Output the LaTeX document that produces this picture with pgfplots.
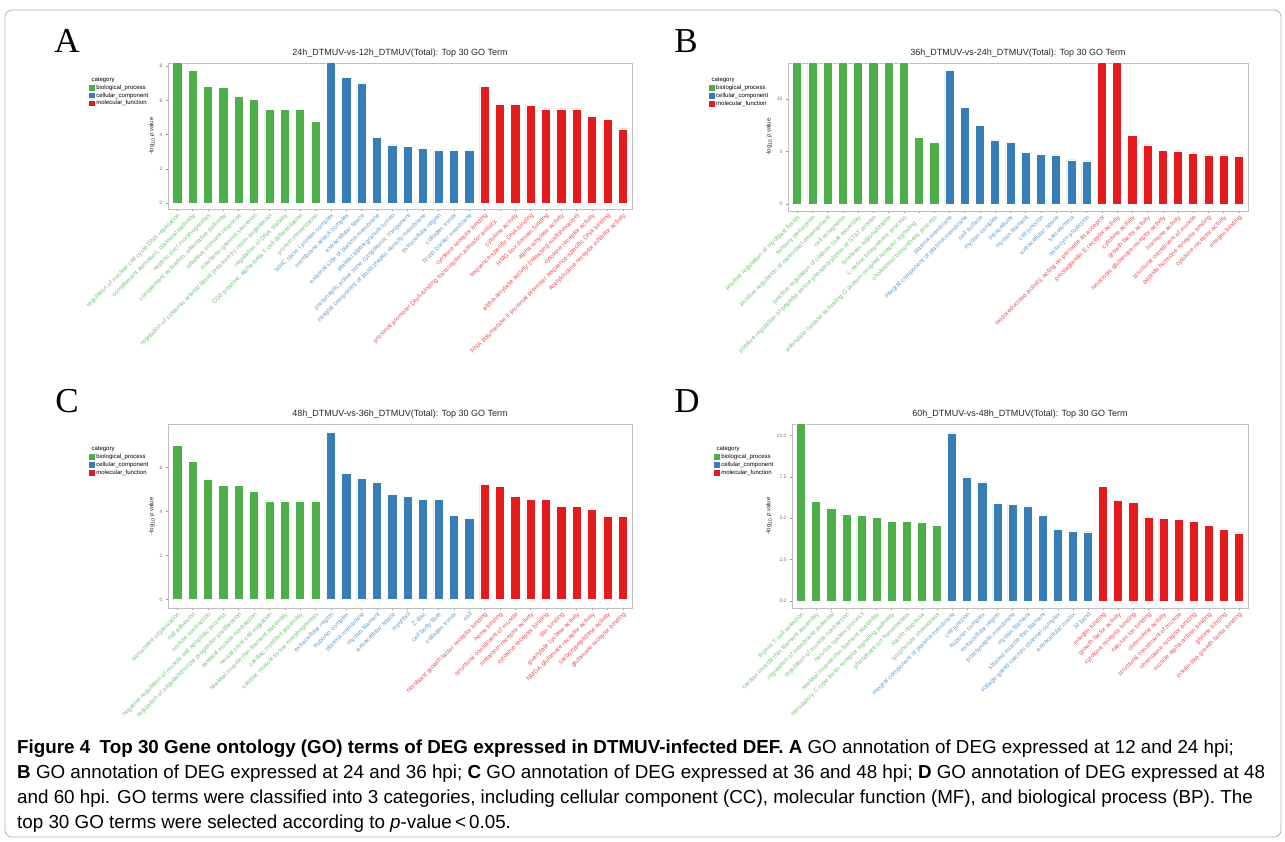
\documentclass[border=0pt]{standalone}
\usepackage{pgfplots}
\pgfplotsset{compat=1.18}
\usepackage{fontspec}
\setmainfont{Liberation Sans}
\newfontfamily\seriffont{Liberation Serif}

\definecolor{cBP}{HTML}{4DAF4A}
\definecolor{cCC}{HTML}{377EB8}
\definecolor{cMF}{HTML}{E41A1C}
\colorlet{tBP}{cBP!75!white}
\colorlet{tCC}{cCC!75!white}
\colorlet{tMF}{cMF!75!white}
\newcommand{\G}[1]{\textcolor{tBP}{#1}}
\newcommand{\C}[1]{\textcolor{tCC}{#1}}
\newcommand{\M}[1]{\textcolor{tMF}{#1}}

\pgfplotsset{
  gobar/.style={
    scale only axis,
    ybar, bar width=0.6, bar shift=0pt,
    xmin=0.4, xmax=30.6, xtick={1,...,30},
    tick pos=left, tick align=outside, major tick length=2pt,
    tick style={black!40, line width=0.4pt},
    axis line style={black!25, line width=0.6pt},
    xticklabel style={rotate=45, anchor=north east, inner sep=1pt,
      font=\fontsize{6.3}{6.5}\selectfont},
    yticklabel style={font=\fontsize{5}{6}\selectfont, text=black!55},
    /pgf/number format/assume math mode=true,
    ylabel={-log\textsubscript{10} \textit{p} value},
    ylabel style={font=\fontsize{6}{7}\selectfont, text=black!85, yshift=-2pt},
    title style={font=\fontsize{9}{10}\selectfont, text=black!85, yshift=-4pt},
    legend cell align=left,
    legend style={draw=none, fill=none, anchor=north west, inner sep=0pt,
      row sep=0pt, font=\fontsize{6}{7}\selectfont,
      nodes={inner sep=1pt}},
    legend image code/.code={\fill[#1] (0pt,-3pt) rectangle (6.5pt,3.5pt);},
    every axis plot/.append style={draw=white, line width=0.5pt},
  }
}

\begin{document}
\begin{tikzpicture}
\path[use as bounding box] (0pt,0pt) rectangle (1285pt,-841pt);
\draw[black!30, line width=0.8pt, rounded corners=7pt] (5pt,-10pt) rectangle (1281pt,-837pt);

% ---------- A ----------
\node[font=\seriffont\fontsize{35}{35}\selectfont] at (67pt,-41pt) {A};
\node[anchor=west, font=\fontsize{6}{7}\selectfont] at (88pt,-80pt) {category};
\begin{axis}[gobar,
  at={(168pt,-209pt)}, anchor=south west,
  width=464pt, height=146pt,
  ymin=-0.35, ymax=8.19, ytick={0,2,4,6,8},
  title={24h\_DTMUV-vs-12h\_DTMUV(Total): Top 30 GO Term},
  legend style={at={(-0.172,0.858)}},
  xticklabels={\G{regulation of nuclear cell cycle DNA replication},
    \G{complement activation, classical pathway},
    \G{nephric duct morphogenesis},
    \G{complement activation, alternative pathway},
    \G{adaptive immune response},
    \G{interferon-gamma secretion},
    \G{regulation of systemic arterial blood pressure by renin-angiotensin},
    \G{regulation of DNA stability},
    \G{CD8-positive, alpha-beta T cell differentiation},
    \G{protein trimerization},
    \C{MHC class I protein complex},
    \C{membrane attack complex},
    \C{extracellular space},
    \C{external side of plasma membrane},
    \C{platelet alpha granule lumen},
    \C{presynaptic active zone cytoplasmic component},
    \C{integral component of postsynaptic density membrane},
    \C{extracellular region},
    \C{collagen trimer},
    \C{brush border membrane},
    \M{cytokine receptor binding},
    \M{proximal promoter DNA-binding transcription activator activity, \ldots},
    \M{cytokine activity},
    \M{sequence-specific DNA binding},
    \M{HMG box domain binding},
    \M{alpha-amylase activity},
    \M{alpha-amylase activity (releasing maltohexaose)},
    \M{cytokine receptor activity},
    \M{RNA polymerase II proximal promoter sequence-specific DNA binding},
    \M{acetylcholine receptor inhibitor activity}},
]
\addplot[fill=cBP] coordinates {(1,9) (2,7.78) (3,6.84) (4,6.78) (5,6.22) (6,6.08) (7,5.48) (8,5.48) (9,5.48) (10,4.81)};
\addlegendentry{biological\_process}
\addplot[fill=cCC] coordinates {(11,9) (12,7.37) (13,7.03) (14,3.86) (15,3.40) (16,3.33) (17,3.20) (18,3.10) (19,3.10) (20,3.10)};
\addlegendentry{cellular\_component}
\addplot[fill=cMF] coordinates {(21,6.84) (22,5.79) (23,5.79) (24,5.73) (25,5.50) (26,5.50) (27,5.50) (28,5.09) (29,4.91) (30,4.33)};
\addlegendentry{molecular\_function}
\end{axis}

% ---------- B ----------
\node[font=\seriffont\fontsize{35}{35}\selectfont] at (686pt,-41pt) {B};
\node[anchor=west, font=\fontsize{6}{7}\selectfont] at (708pt,-80pt) {category};
\begin{axis}[gobar,
  at={(788pt,-211pt)}, anchor=south west,
  width=460pt, height=148pt,
  ymin=-0.67, ymax=13.43, ytick={0,5,10},
  title={36h\_DTMUV-vs-24h\_DTMUV(Total): Top 30 GO Term},
  legend style={at={(-0.174,0.858)}},
  xticklabels={\G{positive regulation of myoblast fusion},
    \G{sensory perception},
    \G{positive regulation of osteoclast development},
    \G{cell recognition},
    \G{positive regulation of clathrin coat assembly},
    \G{positive regulation of peptidyl-serine phosphorylation of STAT protein},
    \G{forebrain regionalization},
    \G{L-serine biosynthetic process},
    \G{adenylate cyclase-activating G protein-coupled receptor signaling \ldots},
    \G{cholesterol biosynthetic process},
    \C{plasma membrane},
    \C{integral component of plasma membrane},
    \C{cell surface},
    \C{myosin complex},
    \C{intracellular},
    \C{myosin filament},
    \C{cell junction},
    \C{extracellular space},
    \C{sarcolemma},
    \C{astrocyte projection},
    \M{oxidoreductase activity, acting on peroxide as acceptor},
    \M{prostaglandin E receptor activity},
    \M{cytokine activity},
    \M{growth factor activity},
    \M{ionotropic glutamate receptor activity},
    \M{hormone activity},
    \M{structural constituent of muscle},
    \M{peptide hormone receptor binding},
    \M{cytokine receptor activity},
    \M{integrin binding}},
]
\addplot[fill=cBP] coordinates {(1,14) (2,14) (3,14) (4,14) (5,14) (6,14) (7,14) (8,14) (9,6.38) (10,5.84)};
\addlegendentry{biological\_process}
\addplot[fill=cCC] coordinates {(11,12.76) (12,9.20) (13,7.52) (14,6.10) (15,5.90) (16,4.95) (17,4.76) (18,4.67) (19,4.19) (20,4.10)};
\addlegendentry{cellular\_component}
\addplot[fill=cMF] coordinates {(21,14) (22,14) (23,6.57) (24,5.62) (25,5.14) (26,5.05) (27,4.86) (28,4.67) (29,4.67) (30,4.57)};
\addlegendentry{molecular\_function}
\end{axis}

% ---------- C ----------
\node[font=\seriffont\fontsize{35}{35}\selectfont] at (67pt,-401pt) {C};
\node[anchor=west, font=\fontsize{6}{7}\selectfont] at (88pt,-449pt) {category};
\begin{axis}[gobar,
  at={(168pt,-608pt)}, anchor=south west,
  width=464pt, height=184pt,
  ymin=-0.38, ymax=7.98, ytick={0,2,4,6},
  title={48h\_DTMUV-vs-36h\_DTMUV(Total): Top 30 GO Term},
  legend style={at={(-0.172,0.842)}},
  xticklabels={\G{sarcomere organization},
    \G{cell adhesion},
    \G{muscle contraction},
    \G{negative regulation of muscle cell apoptotic process},
    \G{regulation of oligodendrocyte progenitor proliferation},
    \G{skeletal muscle contraction},
    \G{neural crest cell migration},
    \G{skeletal muscle thin filament assembly},
    \G{cardiac myofibril assembly},
    \G{cardiac muscle tissue morphogenesis},
    \C{extracellular region},
    \C{troponin complex},
    \C{plasma membrane},
    \C{myosin filament},
    \C{extracellular space},
    \C{myofibril},
    \C{Z disc},
    \C{cell body fiber},
    \C{collagen trimer},
    \C{cell},
    \M{fibroblast growth factor receptor binding},
    \M{heme binding},
    \M{structural constituent of muscle},
    \M{melatonin receptor activity},
    \M{cytokine receptor binding},
    \M{titin binding},
    \M{guanylate cyclase activity},
    \M{NMDA glutamate receptor activity},
    \M{carboxypeptidase activity},
    \M{glutamate receptor binding}},
]
\addplot[fill=cBP] coordinates {(1,7.00) (2,6.29) (3,5.49) (4,5.18) (5,5.18) (6,4.94) (7,4.49) (8,4.49) (9,4.49) (10,4.49)};
\addlegendentry{biological\_process}
\addplot[fill=cCC] coordinates {(11,7.60) (12,5.73) (13,5.51) (14,5.32) (15,4.77) (16,4.68) (17,4.55) (18,4.55) (19,3.82) (20,3.68)};
\addlegendentry{cellular\_component}
\addplot[fill=cMF] coordinates {(21,5.23) (22,5.14) (23,4.68) (24,4.55) (25,4.55) (26,4.23) (27,4.23) (28,4.09) (29,3.77) (30,3.77)};
\addlegendentry{molecular\_function}
\end{axis}

% ---------- D ----------
\node[font=\seriffont\fontsize{35}{35}\selectfont] at (687pt,-401pt) {D};
\node[anchor=west, font=\fontsize{6}{7}\selectfont] at (713pt,-449pt) {category};
\begin{axis}[gobar,
  at={(792pt,-608pt)}, anchor=south west,
  width=456pt, height=184pt,
  ymin=-0.42, ymax=10.69, ytick={0,2.5,5,7.5,10},
  yticklabel style={/pgf/number format/.cd, fixed, fixed zerofill, precision=1},
  title={60h\_DTMUV-vs-48h\_DTMUV(Total): Top 30 GO Term},
  legend style={at={(-0.173,0.842)}},
  xticklabels={\G{thymic T cell selection},
    \G{cardiac muscle thin filament assembly},
    \G{regulation of membrane potential},
    \G{regulation of muscle contraction},
    \G{nervous system process},
    \G{skeletal muscle thin filament assembly},
    \G{stimulatory C-type lectin receptor signaling pathway},
    \G{phosphate ion homeostasis},
    \G{startle response},
    \G{lymphocyte chemotaxis},
    \C{integral component of plasma membrane},
    \C{cell junction},
    \C{troponin complex},
    \C{extracellular region},
    \C{postsynaptic membrane},
    \C{myosin filament},
    \C{striated muscle thin filament},
    \C{voltage-gated calcium channel complex},
    \C{extracellular matrix},
    \C{M band},
    \M{integrin binding},
    \M{growth factor activity},
    \M{cytokine receptor binding},
    \M{calcium ion binding},
    \M{chemokine activity},
    \M{structural constituent of muscle},
    \M{chemokine receptor binding},
    \M{muscle alpha-actinin binding},
    \M{glycine binding},
    \M{insulin-like growth factor binding}},
]
\addplot[fill=cBP] coordinates {(1,11) (2,6.00) (3,5.63) (4,5.24) (5,5.18) (6,5.05) (7,4.79) (8,4.79) (9,4.73) (10,4.57)};
\addlegendentry{biological\_process}
\addplot[fill=cCC] coordinates {(11,10.16) (12,7.50) (13,7.20) (14,5.90) (15,5.86) (16,5.74) (17,5.20) (18,4.35) (19,4.23) (20,4.17)};
\addlegendentry{cellular\_component}
\addplot[fill=cMF] coordinates {(21,6.94) (22,6.10) (23,5.98) (24,5.07) (25,5.01) (26,4.95) (27,4.83) (28,4.59) (29,4.35) (30,4.11)};
\addlegendentry{molecular\_function}
\end{axis}

% ---------- caption ----------
\begin{scope}[every node/.style={anchor=base west, inner sep=0pt, font=\fontsize{18.8}{22}\selectfont}]
\node at (17pt,-753pt) {\textbf{Figure 4\hspace{0.5em}Top 30 Gene ontology (GO) terms of DEG expressed in DTMUV-infected DEF.} \textbf{A} GO annotation of DEG expressed at 12 and 24 hpi;};
\node at (17pt,-778pt) {\textbf{B} GO annotation of DEG expressed at 24 and 36 hpi; \textbf{C} GO annotation of DEG expressed at 36 and 48 hpi; \textbf{D} GO annotation of DEG expressed at 48};
\node at (17pt,-803pt) {and 60 hpi. GO terms were classified into 3 categories, including cellular component (CC), molecular function (MF), and biological process (BP). The};
\node at (17pt,-828pt) {top 30 GO terms were selected according to \textit{p}-value\,<\,0.05.};
\end{scope}
\end{tikzpicture}
\end{document}
